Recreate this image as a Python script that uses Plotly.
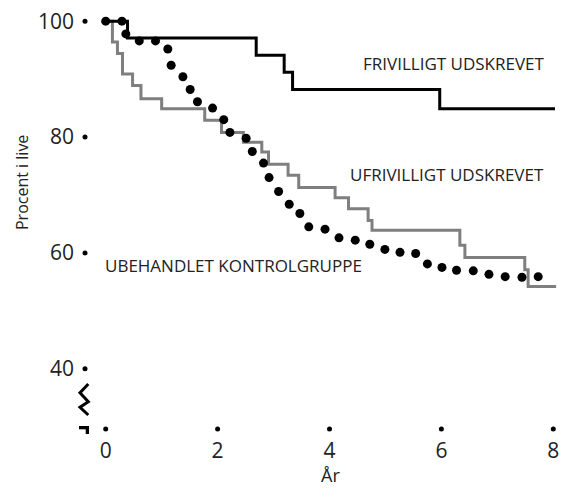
import plotly.graph_objects as go

# ---- data ----
year_ticks = [0, 2, 4, 6, 8]
year_tick_labels = ["0", "2", "4", "6", "8"]
pct_ticks = [40, 60, 80, 100]
pct_tick_labels = ["40", "60", "80", "100"]

frivillig_x = [0, 0.39, 2.69, 3.19, 3.34, 5.97, 8.03]
frivillig_y = [100, 97.1, 94.1, 91.2, 88.2, 84.9, 84.9]

ufrivillig_x = [0, 0.12, 0.21, 0.30, 0.48, 0.63, 1.00, 1.77, 2.07, 2.46, 2.79, 2.91,
                3.26, 3.45, 4.10, 4.34, 4.69, 4.76, 6.33, 6.42, 7.49, 7.55, 8.05]
ufrivillig_y = [100, 96.4, 94.4, 90.9, 88.9, 86.6, 84.9, 82.9, 80.8, 79.1, 77.4, 75.3,
                73.4, 71.3, 69.5, 67.6, 65.6, 63.9, 61.3, 59.2, 57.1, 54.2, 54.2]

kontrol_x = [0.0, 0.29, 0.36, 0.60, 0.89, 1.11, 1.17, 1.38, 1.51, 1.64, 1.91, 2.11,
             2.22, 2.51, 2.62, 2.82, 2.92, 3.09, 3.28, 3.47, 3.63, 3.92, 4.17, 4.46,
             4.72, 4.99, 5.26, 5.54, 5.75, 6.01, 6.27, 6.57, 6.85, 7.14, 7.44, 7.73]
kontrol_y = [100, 100, 97.8, 96.6, 96.6, 95.2, 92.4, 90.4, 88.2, 86.1, 85.0, 83.0,
             80.8, 79.8, 77.5, 75.5, 73.0, 70.6, 68.4, 66.8, 64.5, 64.1, 62.6, 62.2,
             61.5, 60.6, 60.1, 59.9, 58.1, 57.5, 57.0, 56.9, 56.3, 55.9, 55.8, 55.9]

labels = ["FRIVILLIGT UDSKREVET", "UFRIVILLIGT UDSKREVET", "UBEHANDLET KONTROLGRUPPE"]
label_x = [6.225, 6.095, 2.281]
label_y = [92.78, 73.45, 57.9]

X_RANGE = [-0.37, 8.084]
Y_RANGE = [29.6, 101.93]

FONT = "Open Sans, Noto Sans, DejaVu Sans, sans-serif"
TXT = "#222222"

fig = go.Figure()

fig.add_trace(go.Scatter(x=ufrivillig_x, y=ufrivillig_y, mode="lines",
                         line=dict(color="#7f7f7f", width=3, shape="hv"),
                         showlegend=False, hoverinfo="skip"))
fig.add_trace(go.Scatter(x=frivillig_x, y=frivillig_y, mode="lines",
                         line=dict(color="#000000", width=3, shape="hv"),
                         showlegend=False, hoverinfo="skip"))
fig.add_trace(go.Scatter(x=kontrol_x, y=kontrol_y, mode="markers",
                         marker=dict(color="#000000", size=9),
                         showlegend=False, hoverinfo="skip", cliponaxis=False))

# tick dots
fig.add_trace(go.Scatter(x=year_ticks, y=[Y_RANGE[0]] * len(year_ticks), mode="markers",
                         marker=dict(color="#000000", size=5),
                         showlegend=False, hoverinfo="skip", cliponaxis=False))
fig.add_trace(go.Scatter(x=[X_RANGE[0]] * len(pct_ticks), y=pct_ticks, mode="markers",
                         marker=dict(color="#000000", size=5),
                         showlegend=False, hoverinfo="skip", cliponaxis=False))

for t, x, y in zip(labels, label_x, label_y):
    fig.add_annotation(x=x, y=y, text=t, showarrow=False, xanchor="center", yanchor="middle",
                       font=dict(family=FONT, size=17, color=TXT))

# axis titles
fig.add_annotation(xref="paper", yref="paper", x=(330 - 85) / 473, y=(429 - 475) / 419, text="År",
                   showarrow=False, xanchor="center", yanchor="middle",
                   font=dict(family=FONT, size=18, color=TXT))
fig.add_annotation(xref="paper", yref="paper", x=(22 - 85) / 473, y=(429 - 182) / 419,
                   text="Procent i live",
                   textangle=-90, showarrow=False, xanchor="center", yanchor="middle",
                   font=dict(family=FONT, size=16, color=TXT))

# axis break symbol
def px(x):
    return (x - 85) / 473

def py(y):
    return (429 - y) / 419

zig = [(88.3, 384), (80, 392.7), (88.3, 401.7), (80, 407.3), (88.3, 415)]
path = "M " + " L ".join(f"{px(a):.5f},{py(b):.5f}" for a, b in zig)
fig.add_shape(type="path", xref="paper", yref="paper", path=path,
              line=dict(color="#000000", width=3))
fig.add_shape(type="rect", xref="paper", yref="paper",
              x0=px(79), x1=px(89), y0=py(429.3), y1=py(426),
              line=dict(width=0), fillcolor="#000000")
fig.add_shape(type="rect", xref="paper", yref="paper",
              x0=px(85.7), x1=px(89), y0=py(434), y1=py(426),
              line=dict(width=0), fillcolor="#000000")

fig.update_xaxes(range=X_RANGE, showgrid=False, zeroline=False, showline=False,
                 automargin=False,
                 tickvals=year_ticks, ticktext=year_tick_labels, ticks="",
                 ticklabelstandoff=7,
                 tickfont=dict(family=FONT, size=21, color=TXT))
fig.update_yaxes(range=Y_RANGE, showgrid=False, zeroline=False, showline=False,
                 automargin=False,
                 tickvals=pct_ticks, ticktext=pct_tick_labels, ticks="",
                 ticklabelstandoff=10,
                 tickfont=dict(family=FONT, size=21, color=TXT))

fig.update_layout(width=562, height=490, margin=dict(l=85, r=4, t=10, b=61, autoexpand=False),
                  paper_bgcolor="white", plot_bgcolor="white",
                  font=dict(family=FONT, color=TXT))

fig.write_html("out.html", config={"displayModeBar": False},
               post_script="document.body.style.margin='0';document.body.style.padding='0';")
